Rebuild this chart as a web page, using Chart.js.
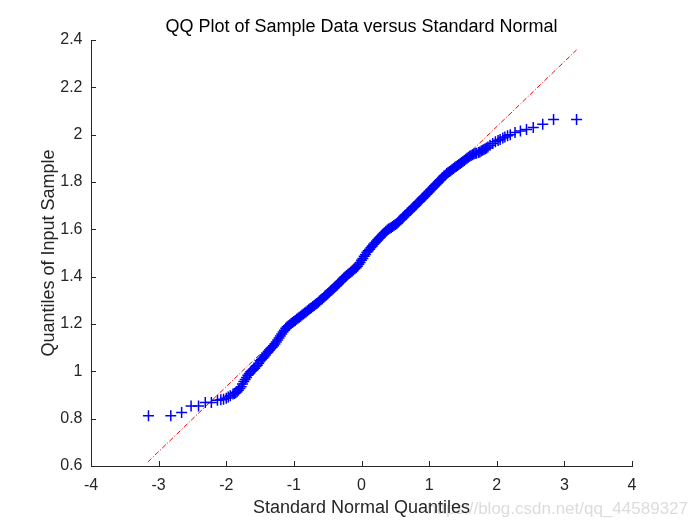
<!DOCTYPE html>
<html><head><meta charset="utf-8">
<script src="https://cdn.jsdelivr.net/npm/chart.js@4/dist/chart.umd.min.js"></script>
<style>html,body{margin:0;padding:0;background:#fff;}canvas{display:block;}</style>
</head><body>
<canvas id="c" width="700" height="525"></canvas>
<script>
const titleText = 'QQ Plot of Sample Data versus Standard Normal';
const xLabel = 'Standard Normal Quantiles';
const yLabel = 'Quantiles of Input Sample';
const watermark = 'https://blog.csdn.net/qq_44589327';
const xTicks = [-4, -3, -2, -1, 0, 1, 2, 3, 4];
const yTicks = [0.6, 0.8, 1.0, 1.2, 1.4, 1.6, 1.8, 2.0, 2.2, 2.4];

// sample quantiles
const sampleX = [
  -3.15, -2.82, -2.66, -2.52, -2.41, -2.31, -2.22, -2.13, -2.08, -2.04,
  -2.00, -1.97, -1.94, -1.90,
  -1.88, -1.86, -1.84, -1.82, -1.80, -1.78, -1.76, -1.74, -1.72, -1.70,
  -1.68, -1.66, -1.64, -1.62, -1.60, -1.58, -1.56, -1.54, -1.52, -1.50,
  -1.48, -1.46, -1.44, -1.42, -1.40, -1.38, -1.36, -1.34, -1.32, -1.30,
  -1.28, -1.26, -1.24, -1.22, -1.20, -1.18, -1.16, -1.14, -1.12, -1.10,
  -1.08, -1.06, -1.04, -1.02, -1.00, -0.98, -0.96, -0.94, -0.92, -0.90,
  -0.88, -0.86, -0.84, -0.82, -0.80, -0.78, -0.76, -0.74, -0.72, -0.70,
  -0.68, -0.66, -0.64, -0.62, -0.60, -0.58, -0.56, -0.54, -0.52, -0.50,
  -0.48, -0.46, -0.44, -0.42, -0.40, -0.38, -0.36, -0.34, -0.32, -0.30,
  -0.28, -0.26, -0.24, -0.22, -0.20, -0.18, -0.16, -0.14, -0.12, -0.10,
  -0.08, -0.06, -0.04, -0.02, 0.00, 0.02, 0.04, 0.06, 0.08, 0.10,
  0.12, 0.14, 0.16, 0.18, 0.20, 0.22, 0.24, 0.26, 0.28, 0.30,
  0.32, 0.34, 0.36, 0.38, 0.40, 0.42, 0.44, 0.46, 0.48, 0.50,
  0.52, 0.54, 0.56, 0.58, 0.60, 0.62, 0.64, 0.66, 0.68, 0.70,
  0.72, 0.74, 0.76, 0.78, 0.80, 0.82, 0.84, 0.86, 0.88, 0.90,
  0.92, 0.94, 0.96, 0.98, 1.00, 1.02, 1.04, 1.06, 1.08, 1.10,
  1.12, 1.14, 1.16, 1.18, 1.20, 1.22, 1.24, 1.26, 1.28, 1.30,
  1.32, 1.34, 1.36, 1.38, 1.40, 1.42, 1.44, 1.46, 1.48, 1.50,
  1.52, 1.54, 1.56, 1.58, 1.60, 1.62, 1.64, 1.66, 1.68, 1.70,
  1.73, 1.75, 1.77, 1.79, 1.81, 1.83, 1.85, 1.87, 1.90, 1.94,
  1.98, 2.02, 2.05, 2.09, 2.12, 2.16, 2.20, 2.27, 2.35, 2.44,
  2.54, 2.68, 2.84, 3.18
];
const sampleY = [
  0.812, 0.812, 0.826, 0.854, 0.854, 0.868, 0.868, 0.878, 0.880, 0.882,
  0.886, 0.892, 0.897, 0.904,
  0.906, 0.910, 0.914, 0.920, 0.927, 0.935, 0.946, 0.957, 0.966, 0.974,
  0.983, 0.991, 0.998, 1.003, 1.008, 1.013, 1.020, 1.026, 1.034, 1.045,
  1.050, 1.055, 1.062, 1.069, 1.076, 1.083, 1.090, 1.097, 1.102, 1.108,
  1.115, 1.124, 1.132, 1.141, 1.149, 1.158, 1.166, 1.174, 1.182, 1.188,
  1.193, 1.197, 1.202, 1.206, 1.211, 1.215, 1.220, 1.224, 1.229, 1.233,
  1.238, 1.242, 1.247, 1.251, 1.256, 1.260, 1.265, 1.269, 1.274, 1.278,
  1.283, 1.287, 1.292, 1.297, 1.302, 1.307, 1.312, 1.318, 1.323, 1.328,
  1.333, 1.339, 1.344, 1.349, 1.354, 1.359, 1.365, 1.371, 1.377, 1.382,
  1.388, 1.394, 1.400, 1.405, 1.410, 1.414, 1.419, 1.423, 1.428, 1.433,
  1.438, 1.444, 1.452, 1.460, 1.469, 1.477, 1.486, 1.494, 1.503, 1.510,
  1.516, 1.523, 1.530, 1.537, 1.543, 1.550, 1.556, 1.562, 1.568, 1.574,
  1.580, 1.586, 1.592, 1.597, 1.601, 1.605, 1.608, 1.612, 1.616, 1.620,
  1.624, 1.629, 1.635, 1.640, 1.646, 1.652, 1.658, 1.663, 1.669, 1.674,
  1.680, 1.685, 1.691, 1.696, 1.702, 1.708, 1.714, 1.719, 1.725, 1.731,
  1.737, 1.742, 1.748, 1.754, 1.760, 1.766, 1.772, 1.778, 1.784, 1.789,
  1.795, 1.801, 1.807, 1.813, 1.819, 1.825, 1.830, 1.836, 1.840, 1.844,
  1.848, 1.853, 1.857, 1.862, 1.866, 1.870, 1.874, 1.878, 1.882, 1.887,
  1.891, 1.896, 1.900, 1.905, 1.909, 1.912, 1.915, 1.918, 1.920, 1.922,
  1.925, 1.927, 1.931, 1.934, 1.937, 1.940, 1.944, 1.948, 1.955, 1.963,
  1.970, 1.975, 1.980, 1.986, 1.990, 1.995, 2.000, 2.009, 2.016, 2.022,
  2.030, 2.044, 2.064, 2.064
];
// reference line end points
const refX = [-3.16, 3.18];
const refY = [0.617, 2.358];

const FONT = '"Liberation Sans", Arial, Helvetica, sans-serif';
const AXIS = '#262626';

const deco = {
  id: 'deco',
  beforeDraw(chart) {
    const c = chart.ctx;
    c.save();
    c.fillStyle = '#ffffff';
    c.fillRect(0, 0, chart.width, chart.height);
    c.font = '17px ' + FONT;
    c.fillStyle = '#dcdcdc';
    c.textAlign = 'right';
    c.textBaseline = 'alphabetic';
    c.fillText(watermark, 688, 514);
    c.restore();
  },
  afterDraw(chart) {
    const c = chart.ctx;
    const xs = chart.scales.x, ys = chart.scales.y;
    const a = chart.chartArea;
    c.save();
    c.strokeStyle = AXIS;
    c.lineWidth = 1;
    c.beginPath();
    xTicks.forEach(v => {
      const px = Math.round(xs.getPixelForValue(v)) + 0.5;
      c.moveTo(px, a.bottom);
      c.lineTo(px, a.bottom - 5);
    });
    yTicks.forEach(v => {
      const py = Math.round(ys.getPixelForValue(v)) + 0.5;
      c.moveTo(a.left, py);
      c.lineTo(a.left + 5, py);
    });
    c.stroke();
    c.font = '18px ' + FONT;
    c.fillStyle = '#000000';
    c.textAlign = 'center';
    c.textBaseline = 'alphabetic';
    c.fillText(titleText, (a.left + a.right) / 2, 31.5);
    c.restore();
  }
};

new Chart(document.getElementById('c'), {
  type: 'scatter',
  data: {
    datasets: [
      {
        data: sampleX.map((x, i) => ({x: x, y: sampleY[i]})),
        pointStyle: 'cross',
        pointRadius: 5.5,
        pointBorderWidth: 1.5,
        borderColor: '#0000ff',
        backgroundColor: '#0000ff',
        order: 0
      },
      {
        type: 'line',
        data: refX.map((x, i) => ({x: x, y: refY[i]})),
        borderColor: '#ff0000',
        borderWidth: 1,
        borderDash: [5, 2, 1, 2],
        pointRadius: 0,
        fill: false,
        order: 1
      }
    ]
  },
  options: {
    responsive: false,
    animation: false,
    devicePixelRatio: 1,
    layout: {padding: {left: 0, right: 68, top: 40, bottom: 0}},
    plugins: {legend: {display: false}, tooltip: {enabled: false}, title: {display: false}},
    scales: {
      x: {
        type: 'linear', min: -4, max: 4,
        afterBuildTicks: s => { s.ticks = xTicks.map(v => ({value: v})); },
        afterFit: s => { s.height = 59; },
        grid: {display: false, drawTicks: false, drawOnChartArea: false},
        border: {display: true, color: AXIS, width: 1},
        ticks: {padding: 10, color: AXIS, autoSkip: false, maxRotation: 0,
          font: {family: FONT, size: 16}, callback: v => String(v)},
        title: {display: true, text: xLabel, color: AXIS, font: {family: FONT, size: 18}, padding: 6.5}
      },
      y: {
        type: 'linear', min: 0.6, max: 2.4,
        afterBuildTicks: s => { s.ticks = yTicks.map(v => ({value: v})); },
        afterFit: s => { s.width = 91; },
        grid: {display: false, drawTicks: false, drawOnChartArea: false},
        border: {display: true, color: AXIS, width: 1},
        ticks: {padding: 8.5, color: AXIS, autoSkip: false,
          font: {family: FONT, size: 16}, callback: v => String(Math.round(v * 10) / 10)},
        title: {display: true, text: yLabel, color: AXIS, font: {family: FONT, size: 18}, padding: 38}
      }
    }
  },
  plugins: [deco]
});
</script>
</body></html>
